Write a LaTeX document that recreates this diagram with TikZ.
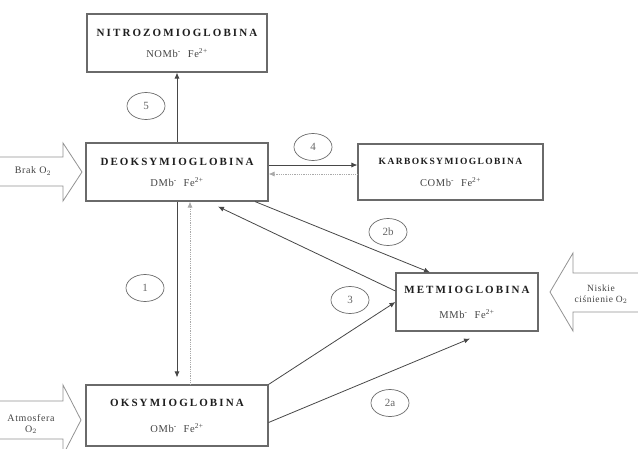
\documentclass[tikz,border=0pt]{standalone}
\usepackage{fontspec}
\setmainfont{Liberation Serif}
\newfontfamily\titlefam[LetterSpace=19]{Liberation Serif}
\newfontfamily\titlefamk[LetterSpace=15]{Liberation Serif}
\newfontfamily\subfam[LetterSpace=6]{Liberation Serif}
\usetikzlibrary{shapes.geometric,arrows.meta}
\definecolor{boxline}{HTML}{6A6A6A}
\definecolor{txt}{HTML}{1E1E1E}
\definecolor{subtxt}{HTML}{444444}
\definecolor{arrline}{HTML}{474747}
\definecolor{dotline}{HTML}{AAAAAA}
\newcommand{\ttlf}{\fontsize{11}{13}\selectfont\titlefam\bfseries}
\newcommand{\subf}{\fontsize{10.5}{12}\selectfont\subfam}
\begin{document}
\begin{tikzpicture}[x=1pt,y=-1pt,
  box/.style={draw=boxline,line width=1.1pt,fill=white,align=center,inner sep=0pt},
  num/.style={ellipse,draw=gray!85!black,line width=0.7pt,minimum width=38pt,minimum height=27pt,inner sep=0pt,text=gray!80!black,font=\fontsize{11}{13}\selectfont},
  arr/.style={draw=arrline,line width=0.8pt,-{Latex[length=6pt,width=5pt]}},
  darr/.style={draw=dotline,line width=0.8pt,densely dotted,-{Latex[length=6pt,width=5pt]}},
  barrow/.style={draw=gray!85,line width=0.8pt,fill=white},
  btext/.style={text=subtxt,font=\fontsize{10}{12}\selectfont\subfam,align=center,inner sep=0pt}
]
\useasboundingbox[fill=white] (0,0) rectangle (638,448);

% boxes
\node[box,minimum width=180pt,minimum height=58pt] (nitro) at (177,43)
  {\textcolor{txt}{\ttlf NITROZOMIOGLOBINA}\\[9pt]
   \textcolor{subtxt}{\subf NOMb\textsuperscript{-}\hspace{7pt}Fe\textsuperscript{2+}}};
\node[box,minimum width=182pt,minimum height=58pt] (deoksy) at (177,172)
  {\textcolor{txt}{\ttlf DEOKSYMIOGLOBINA}\\[9pt]
   \textcolor{subtxt}{\subf DMb\textsuperscript{-}\hspace{7pt}Fe\textsuperscript{2+}}};
\node[box,minimum width=185pt,minimum height=56pt] (karbo) at (450.5,172)
  {\textcolor{txt}{\fontsize{9.5}{11}\selectfont\titlefamk\bfseries KARBOKSYMIOGLOBINA}\\[10pt]
   \textcolor{subtxt}{\subf COMb\textsuperscript{-}\hspace{7pt}Fe\textsuperscript{2+}}};
\node[box,minimum width=182pt,minimum height=61pt] (oksy) at (177,415.5)
  {\textcolor{txt}{\ttlf OKSYMIOGLOBINA}\\[14pt]
   \textcolor{subtxt}{\subf OMb\textsuperscript{-}\hspace{7pt}Fe\textsuperscript{2+}}};
\node[box,minimum width=142pt,minimum height=58pt] (metmio) at (467,302)
  {\textcolor{txt}{\ttlf METMIOGLOBINA}\\[13pt]
   \textcolor{subtxt}{\subf MMb\textsuperscript{-}\hspace{7pt}Fe\textsuperscript{2+}}};

% number labels
\node[num] (n5) at (146,106) {5};
\node[num] (n4) at (313,147) {4};
\node[num] (n1) at (145,288) {1};
\node[num] (n2b) at (388,232) {2b};
\node[num] (n3) at (350,300) {3};
\node[num] (n2a) at (390,403) {2a};

% connectors
\draw[arr] (deoksy.north) -- (nitro.south);
\draw[arr] ([yshift=7pt]deoksy.east) -- ([yshift=7pt]karbo.west);
\draw[darr] ([yshift=-2pt]karbo.west) -- ([yshift=-2pt]deoksy.east);
\draw[arr] (deoksy.south) -- ([yshift=7pt]oksy.north);
\draw[darr] ([xshift=13pt]oksy.north) -- ([xshift=13pt]deoksy.south);
\draw[arr] ([xshift=78pt]deoksy.south) -- ([xshift=-37pt]metmio.north);
\draw[arr] ([yshift=11pt]metmio.west) -- ([xshift=41pt,yshift=-5pt]deoksy.south);
\draw[arr] (oksy.north east) -- (metmio.west);
\draw[arr] ([yshift=-7pt]oksy.east) -- ([xshift=3pt,yshift=-7pt]metmio.south);

% block arrows
\draw[barrow] (-2,157) -- (63,157) -- (63,143) -- (82,172) -- (63,201) -- (63,186) -- (-2,186) -- cycle;
\node[btext] (brak) at (33,171) {Brak O$_2$};

\draw[barrow] (-2,401) -- (63,401) -- (63,385) -- (81,420) -- (63,455) -- (63,439) -- (-2,439) -- cycle;
\node[btext] (atmo) at (31,424) {Atmosfera\\[-1pt]O$_2$};

\draw[barrow] (641,273) -- (573,273) -- (573,253) -- (550,292) -- (573,331) -- (573,312) -- (641,312) -- cycle;
\node[btext,font=\fontsize{9.5}{11}\selectfont\subfam] (nisk) at (601,294) {Niskie\\[0pt]ciśnienie O$_2$};
\end{tikzpicture}
\end{document}
